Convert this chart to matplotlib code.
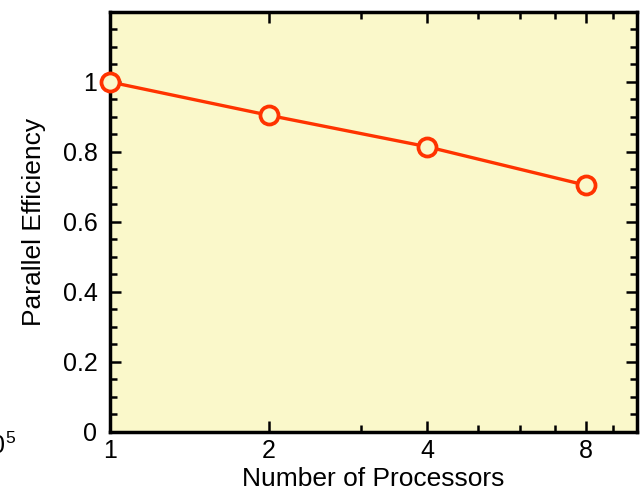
import numpy as np
import matplotlib.pyplot as plt
from matplotlib.ticker import FixedLocator, NullFormatter

plt.rcParams['font.family'] = ['Liberation Sans', 'DejaVu Sans']
plt.rcParams['mathtext.fontset'] = 'custom'
plt.rcParams['mathtext.rm'] = 'Liberation Sans'

procs = [1, 2, 4, 8]  # number of processors
efficiency = [1.0, 0.905, 0.815, 0.705]  # parallel efficiency
xticklabels = ['1', '2', '4', '8']
yticks = [0, 0.2, 0.4, 0.6, 0.8, 1.0]
yticklabels = ['0', '0.2', '0.4', '0.6', '0.8', '1']

bg = '#faf8ca'
red = '#ff3300'

fig = plt.figure(figsize=(6.41, 4.91), dpi=100)
ax = fig.add_axes([0.1716, 0.1202, 0.822, 0.8554])
ax.set_facecolor(bg)

ax.plot(procs, efficiency, color=red, lw=2.4, marker='o', ms=13,
        mew=2.7, mfc=bg, mec=red, clip_on=False, zorder=5)

ax.set_xscale('log', base=2)
ax.set_xlim(1, 10)
ax.set_ylim(0, 1.2)
ax.xaxis.set_major_locator(FixedLocator(procs))
ax.set_xticklabels(xticklabels)
ax.xaxis.set_minor_locator(FixedLocator([3, 5, 6, 7, 9]))
ax.xaxis.set_minor_formatter(NullFormatter())
ax.set_yticks(yticks)
ax.set_yticklabels(yticklabels)
ax.set_yticks(np.arange(0, 1.2001, 0.05), minor=True)

for s in ax.spines.values():
    s.set_linewidth(2.5)
ax.tick_params(which='both', direction='in', top=True, right=True,
               width=1.8, labelsize=18)
ax.tick_params(axis='y', pad=9)
ax.tick_params(axis='x', pad=5)
ax.tick_params(which='major', length=8)
ax.tick_params(which='minor', length=5)

ax.set_xlabel('Number of Processors', fontsize=19, labelpad=3)
ax.set_ylabel('Parallel Efficiency', fontsize=19, labelpad=12)

# piece of the neighbouring panel's tick label
fig.text(16 / 641, 1 - 446 / 491, r'$10^5$', ha='right', va='center', fontsize=18)

fig.savefig('out.png', dpi=100)
